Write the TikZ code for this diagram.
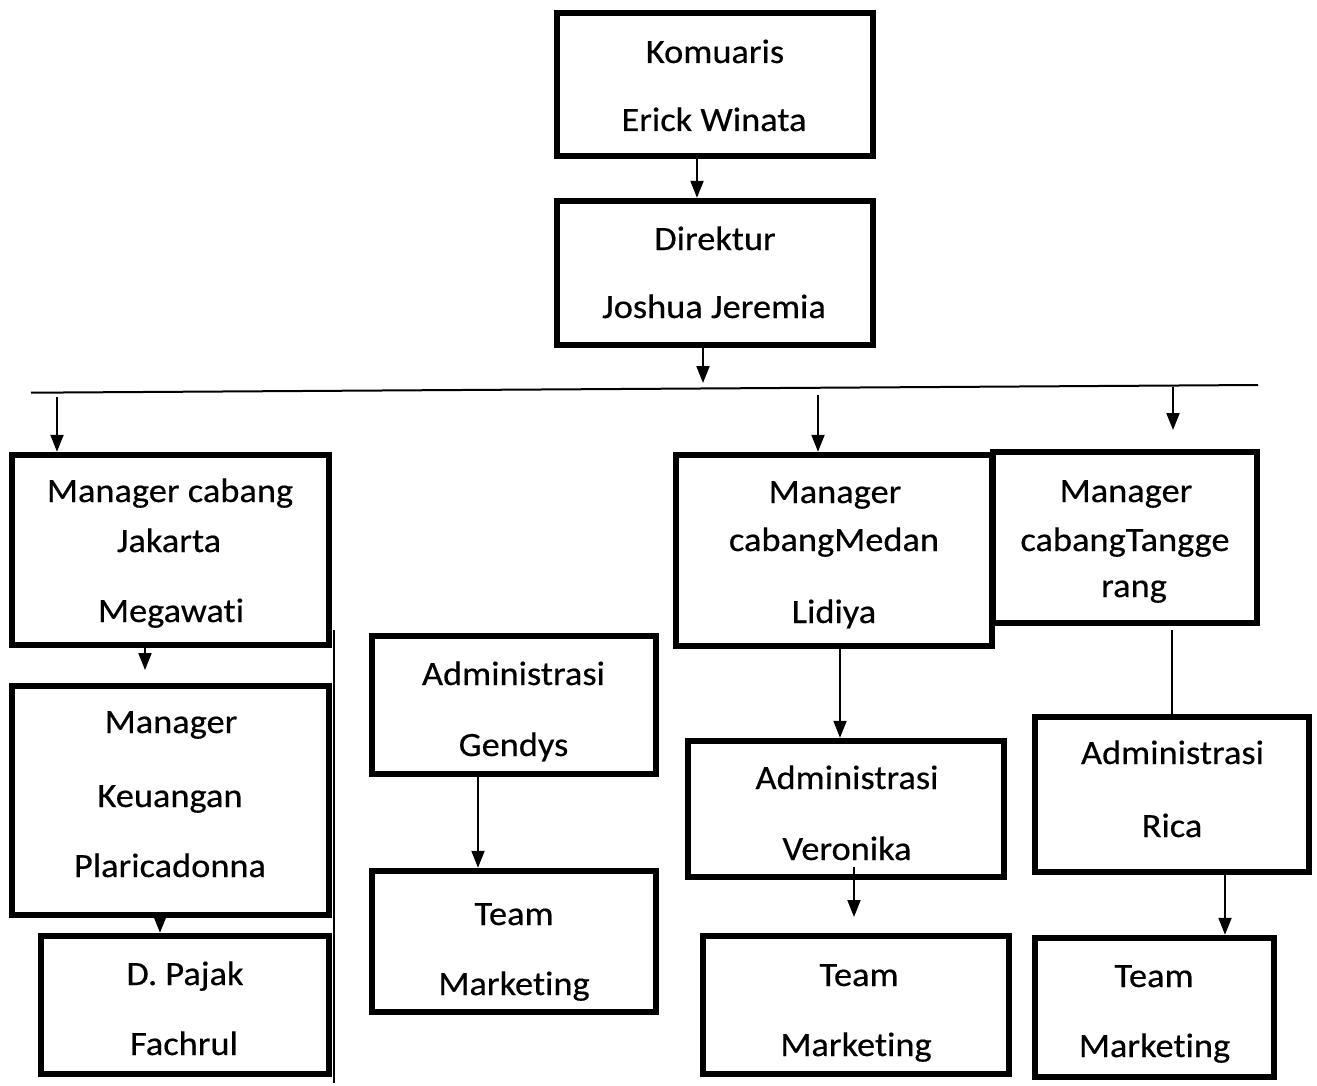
\documentclass[tikz,border=0pt]{standalone}
\usepackage{fontspec}
\setmainfont{Carlito}[FakeStretch=1.07,Ligatures=NoCommon,FakeBold=0.4]
\usetikzlibrary{arrows.meta}
\tikzset{
  box/.style={draw=black, line width=3.2pt, fill=none, inner sep=0pt},
  txt/.style={anchor=base, inner sep=0pt, font=\fontsize{17pt}{20pt}\selectfont},
  conn/.style={line width=1pt},
  arr/.style={line width=1pt, -{Triangle[length=8.5pt,width=6.5pt]}},
  thin line/.style={line width=0.8pt}
}
\begin{document}
\begin{tikzpicture}[x=0.5pt,y=-0.5pt]
\useasboundingbox (0,0) rectangle (1317,1086);
% boxes
\node[box, minimum width=158pt, minimum height=71.5pt] (kom) at (715,84.5) {};
\node[box, minimum width=158pt, minimum height=72pt] (dir) at (715,273) {};
\node[box, minimum width=158.5pt, minimum height=95pt] (jak) at (170.5,550) {};
\node[box, minimum width=158.5pt, minimum height=114.5pt] (keu) at (170.5,800.5) {};
\node[box, minimum width=144pt, minimum height=69pt] (paj) at (185,1005) {};
\node[box, minimum width=142pt, minimum height=69pt] (gen) at (514,705) {};
\node[box, minimum width=142pt, minimum height=70.5pt] (tmg) at (514,941.5) {};
\node[box, minimum width=158pt, minimum height=95.5pt] (med) at (834,550.5) {};
\node[box, minimum width=132pt, minimum height=85.5pt] (tan) at (1125,537.5) {};
\node[box, minimum width=158pt, minimum height=68pt] (ver) at (846,809) {};
\node[box, minimum width=153pt, minimum height=69pt] (tmv) at (856,1005) {};
\node[box, minimum width=137pt, minimum height=77.5pt] (ric) at (1172,794.5) {};
\node[box, minimum width=119.5pt, minimum height=69.5pt] (tmr) at (1154.5,1007.5) {};
% texts
\node[txt] (t1) at (715,63) {Komuaris};
\node[txt] (t2) at (714,131) {Erick Winata};
\node[txt] (t3) at (715,250) {Direktur};
\node[txt] (t4) at (714,318) {Joshua Jeremia};
\node[txt] (t5) at (170,502) {Manager cabang};
\node[txt] (t6) at (169,552) {Jakarta};
\node[txt] (t7) at (171,622) {Megawati};
\node[txt] (t8) at (171,733) {Manager};
\node[txt] (t9) at (170,807) {Keuangan};
\node[txt] (t10) at (170,877) {Plaricadonna};
\node[txt] (t11) at (185,985) {D. Pajak};
\node[txt] (t12) at (184,1055) {Fachrul};
\node[txt] (t13) at (513.5,685) {Administrasi};
\node[txt] (t14) at (513.5,756) {Gendys};
\node[txt] (t15) at (514,925) {Team};
\node[txt] (t16) at (514,995) {Marketing};
\node[txt] (t17) at (835,503) {Manager};
\node[txt] (t18) at (834,551) {cabangMedan};
\node[txt] (t19) at (834,623) {Lidiya};
\node[txt] (t20) at (1126,502) {Manager};
\node[txt] (t21) at (1125,551) {cabangTangge};
\node[txt] (t22) at (1134,597) {rang};
\node[txt] (t23) at (847,789) {Administrasi};
\node[txt] (t24) at (847,860) {Veronika};
\node[txt] (t25) at (859,986) {Team};
\node[txt] (t26) at (856,1056) {Marketing};
\node[txt] (t27) at (1172.5,764) {Administrasi};
\node[txt] (t28) at (1172,837) {Rica};
\node[txt] (t29) at (1154,987) {Team};
\node[txt] (t30) at (1154.5,1057) {Marketing};
% free ends
\coordinate (dirend) at (703,383);
\coordinate (hl) at (31,392.7);
\coordinate (hr) at (1258,385);
\coordinate (jakstart) at (57,397);
\coordinate (medstart) at (818,395);
\coordinate (tanstart) at (1173,387);
\coordinate (tanend) at (1173,430);
\coordinate (jakend) at (145,670);
\coordinate (vtop) at (334,630);
\coordinate (vbot) at (334,1083);
\coordinate (verstart) at (854,867);
\coordinate (verend) at (854,917);
\coordinate (tanline) at (1172,630);
% connectors
\draw[arr] (697,0 |- kom.south) -- (697,0 |- dir.north);
\draw[arr] (703,0 |- dir.south) -- (dirend);
\draw[conn] (hl) -- (hr);
\draw[arr] (jakstart) -- (57,0 |- jak.north);
\draw[arr] (medstart) -- (818,0 |- med.north);
\draw[arr] (tanstart) -- (tanend);
\draw[arr] (145,0 |- jak.south) -- (jakend);
\draw[arr] (160,0 |- keu.south) -- (160,0 |- paj.north);
\draw[thin line] (vtop) -- (vbot);
\draw[arr] (478,0 |- gen.south) -- (478,0 |- tmg.north);
\draw[arr] (840,0 |- med.south) -- (840,0 |- ver.north);
\draw[arr] (verstart) -- (verend);
\draw[conn] (tanline) -- (1172,0 |- ric.north);
\draw[arr] (1225,0 |- ric.south) -- (1225,0 |- tmr.north);
\end{tikzpicture}
\end{document}
